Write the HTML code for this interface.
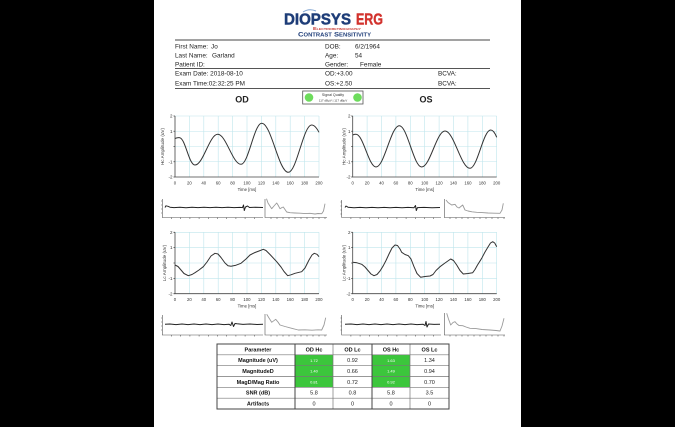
<!DOCTYPE html>
<html><head><meta charset="utf-8"><style>
html,body{margin:0;padding:0;background:#000;}
svg{display:block;}
text{font-family:"Liberation Sans",Arial,sans-serif;}
</style></head><body>
<svg width="675" height="427" viewBox="0 0 675 427" xmlns="http://www.w3.org/2000/svg">
<rect x="0" y="0" width="675" height="427" fill="#000"/>
<rect x="154" y="0" width="367" height="427" fill="#fff"/>

<!-- Logo -->
<text x="284" y="24.5" font-size="16" font-weight="bold" fill="#1e3d78" stroke="#1e3d78" stroke-width="0.5" textLength="67" lengthAdjust="spacingAndGlyphs">DIOPSYS</text>
<path d="M303 12 Q309 8 316 11" stroke="#7fa3d0" stroke-width="1" fill="none"/>
<text x="356" y="24.5" font-size="16" font-weight="bold" fill="#d2322d" stroke="#d2322d" stroke-width="0.4" textLength="27" lengthAdjust="spacingAndGlyphs">ERG</text>
<text x="313" y="30" font-size="4.5" font-weight="bold" fill="#c8352f" style="font-variant:small-caps" textLength="48" lengthAdjust="spacingAndGlyphs">Electroretinography</text>
<text x="298" y="36.5" font-size="6.5" font-weight="bold" fill="#1e3d78" style="font-variant:small-caps" textLength="73" lengthAdjust="spacingAndGlyphs">Contrast Sensitivity</text>

<!-- Header lines -->
<line x1="175" y1="40" x2="490" y2="40" stroke="#444" stroke-width="1.1"/>
<line x1="175" y1="68.5" x2="490" y2="68.5" stroke="#555" stroke-width="0.9"/>
<line x1="175" y1="88.5" x2="490" y2="88.5" stroke="#555" stroke-width="0.9"/>

<g font-size="6.4" fill="#222">
<text x="175" y="48.5">First Name:</text><text x="211" y="48.5">Jo</text>
<text x="175" y="57.5">Last Name:</text><text x="212" y="57.5">Garland</text>
<text x="175" y="66.5">Patient ID:</text>
<text x="175" y="75.5">Exam Date: 2018-08-10</text>
<text x="175" y="85.5">Exam Time:02:32:25 PM</text>
<text x="325" y="48.5">DOB:</text><text x="355" y="48.5">6/2/1964</text>
<text x="325" y="57.5">Age:</text><text x="355" y="57.5">54</text>
<text x="325" y="66.5">Gender:</text><text x="360" y="66.5">Female</text>
<text x="325" y="75.5">OD:+3.00</text>
<text x="325" y="85.5">OS:+2.50</text>
<text x="438" y="75.5">BCVA:</text>
<text x="438" y="85.5">BCVA:</text>
</g>

<!-- Signal quality -->
<rect x="302.7" y="91" width="60.3" height="13" fill="#fff" stroke="#555" stroke-width="0.8"/>
<circle cx="309" cy="97.5" r="4.3" fill="#6ddc5c"/>
<circle cx="357.5" cy="97.5" r="4.3" fill="#6ddc5c"/>
<text x="333" y="96" font-size="3.6" fill="#333" text-anchor="middle">Signal Quality</text>
<text x="333" y="101.5" font-size="3" fill="#333" text-anchor="middle">117 dBµV | 117 dBµV</text>

<text x="242" y="102.5" font-size="9" font-weight="bold" fill="#222" text-anchor="middle">OD</text>
<text x="426" y="102.5" font-size="9" font-weight="bold" fill="#222" text-anchor="middle">OS</text>

<!-- ===== Chart grids ===== -->
<g stroke="#bfe5ec" stroke-width="0.6">
 <path d="M189.4 116V177M203.8 116V177M218.2 116V177M232.6 116V177M247 116V177M261.4 116V177M275.8 116V177M290.2 116V177M304.6 116V177M319 116V177M175 116H319M175 131.25H319M175 146.5H319M175 161.75H319"/>
 <path d="M367.1 116V177M381.5 116V177M395.9 116V177M410.3 116V177M424.7 116V177M439.1 116V177M453.5 116V177M467.9 116V177M482.3 116V177M496.7 116V177M352.7 116H496.7M352.7 131.25H496.7M352.7 146.5H496.7M352.7 161.75H496.7"/>
 <path d="M189.4 232.3V293.7M203.8 232.3V293.7M218.2 232.3V293.7M232.6 232.3V293.7M247 232.3V293.7M261.4 232.3V293.7M275.8 232.3V293.7M290.2 232.3V293.7M304.6 232.3V293.7M319 232.3V293.7M175 232.3H319M175 247.65H319M175 263H319M175 278.35H319"/>
 <path d="M367.1 232.3V293.7M381.5 232.3V293.7M395.9 232.3V293.7M410.3 232.3V293.7M424.7 232.3V293.7M439.1 232.3V293.7M453.5 232.3V293.7M467.9 232.3V293.7M482.3 232.3V293.7M496.7 232.3V293.7M352.7 232.3H496.7M352.7 247.65H496.7M352.7 263H496.7M352.7 278.35H496.7"/>
</g>

<!-- axes -->
<g stroke="#444" stroke-width="0.8" fill="none">
 <path d="M175 116V177H319"/>
 <path d="M352.7 116V177H496.7"/>
 <path d="M175 232.3V293.7H319"/>
 <path d="M352.7 232.3V293.7H496.7"/>
 <path d="M173.5 116H175M173.5 131.25H175M173.5 146.5H175M173.5 161.75H175M173.5 177H175"/>
 <path d="M351.2 116H352.7M351.2 131.25H352.7M351.2 146.5H352.7M351.2 161.75H352.7M351.2 177H352.7"/>
 <path d="M173.5 232.3H175M173.5 247.65H175M173.5 263H175M173.5 278.35H175M173.5 293.7H175"/>
 <path d="M351.2 232.3H352.7M351.2 247.65H352.7M351.2 263H352.7M351.2 278.35H352.7M351.2 293.7H352.7"/>
</g>

<!-- tick labels -->
<g font-size="4.5" fill="#333" text-anchor="end">
 <text x="172.5" y="117.6">2</text><text x="172.5" y="132.8">1</text><text x="172.5" y="163.3">-1</text><text x="172.5" y="178.6">-2</text>
 <text x="350.5" y="117.6">2</text><text x="350.5" y="132.8">1</text><text x="350.5" y="163.3">-1</text><text x="350.5" y="178.6">-2</text>
 <text x="172.5" y="233.9">2</text><text x="172.5" y="249.2">1</text><text x="172.5" y="279.9">-1</text><text x="172.5" y="295.3">-2</text>
 <text x="350.5" y="233.9">2</text><text x="350.5" y="249.2">1</text><text x="350.5" y="279.9">-1</text><text x="350.5" y="295.3">-2</text>
</g>
<g font-size="4.3" fill="#333" text-anchor="middle">
 <text x="175" y="184.5">0</text><text x="189.4" y="184.5">20</text><text x="203.8" y="184.5">40</text><text x="218.2" y="184.5">60</text><text x="232.6" y="184.5">80</text><text x="247" y="184.5">100</text><text x="261.4" y="184.5">120</text><text x="275.8" y="184.5">140</text><text x="290.2" y="184.5">160</text><text x="304.6" y="184.5">180</text><text x="319" y="184.5">200</text>
 <text x="352.7" y="184.5">0</text><text x="367.1" y="184.5">20</text><text x="381.5" y="184.5">40</text><text x="395.9" y="184.5">60</text><text x="410.3" y="184.5">80</text><text x="424.7" y="184.5">100</text><text x="439.1" y="184.5">120</text><text x="453.5" y="184.5">140</text><text x="467.9" y="184.5">160</text><text x="482.3" y="184.5">180</text><text x="496.7" y="184.5">200</text>
 <text x="175" y="300.8">0</text><text x="189.4" y="300.8">20</text><text x="203.8" y="300.8">40</text><text x="218.2" y="300.8">60</text><text x="232.6" y="300.8">80</text><text x="247" y="300.8">100</text><text x="261.4" y="300.8">120</text><text x="275.8" y="300.8">140</text><text x="290.2" y="300.8">160</text><text x="304.6" y="300.8">180</text><text x="319" y="300.8">200</text>
 <text x="352.7" y="300.8">0</text><text x="367.1" y="300.8">20</text><text x="381.5" y="300.8">40</text><text x="395.9" y="300.8">60</text><text x="410.3" y="300.8">80</text><text x="424.7" y="300.8">100</text><text x="439.1" y="300.8">120</text><text x="453.5" y="300.8">140</text><text x="467.9" y="300.8">160</text><text x="482.3" y="300.8">180</text><text x="496.7" y="300.8">200</text>
 <text x="247" y="191">Time [ms]</text>
 <text x="424.7" y="191">Time [ms]</text>
 <text x="247" y="307.3">Time [ms]</text>
 <text x="424.7" y="307.3">Time [ms]</text>
</g>
<g font-size="4.6" fill="#333" text-anchor="middle">
 <text transform="translate(164,146.5) rotate(-90)">Hc Amplitude (uV)</text>
 <text transform="translate(345.5,146.5) rotate(-90)">Hc Amplitude (uV)</text>
 <text transform="translate(166,263) rotate(-90)">Lc Amplitude (uV)</text>
 <text transform="translate(345.5,263) rotate(-90)">Lc Amplitude (uV)</text>
</g>

<!-- ===== waveforms ===== -->
<g stroke="#333" stroke-width="1" fill="none" stroke-linejoin="round">
 <path d="M175,138.5 C177,137.6 178.5,137.5 180,137.8 C185.5,139.5 189,165 195,165 C203.2,165 209.5,134.3 217.7,134.3 C226.1,134.3 232.6,164.3 241,164.3 C248.5,164.3 254.2,123.3 261.7,123.3 C271.3,123.3 278.7,172.3 288.3,172.3 C296.7,172.3 303.3,125 311.7,125 C314.5,125 317,128.5 319,132.3"/>
 <path d="M352.7,135 C354,134.4 355,134.3 356,134.3 C363.2,134.3 368.8,167 376,167 C384.4,167 390.9,125.7 399.3,125.7 C407.4,125.7 413.6,167 421.7,167 C430.1,167 436.6,131 445,131 C454,131 461,168.3 470,168.3 C477.5,168.3 483.2,130 490.7,130 C493,130 495,133 496.7,137.3"/>
 <polyline points="175,265 178,266.5 181,270 184,273.5 188.3,275.7 192,274.5 195,272.7 199,270 203.3,266.7 207,262 211,256 215,253.3 218,254 221,257.5 225,263 228,265.8 231,266.3 236,265.2 241,263.3 246,259 250,255 255,252.5 259,251 263.3,249.3 266,250.5 270,254.5 276.7,261.7 281,267 284,271.5 287.7,275.7 291,274.8 295,273.3 301.7,271.7 305,268 309,260 312,255 314.3,253.3 317,254.3 319,256.7"/>
 <polyline points="352.7,262.3 357,262.8 361.7,264.3 365,267 368,270.5 371,274 374,275.7 377,274.5 380,271 383.3,265.7 386,260.5 389,254 392,248 395,245 397.5,245.5 400,249 401.7,252.3 405,254.5 408.3,255.7 411,259 414,266.7 417,273.5 420.7,277.3 425,276.5 430,276 433,274.5 436,270.5 440,266.7 445,263 450.7,259 453.5,260.5 456.7,265 460,270.5 463.3,274 468,273.5 472.7,272.7 475,269.5 477.5,265 481.7,258.3 485,252 488,247 490.5,243 492.7,241.7 494.7,243 496.7,246.7"/>
</g>

<!-- ===== small trace panels ===== -->
<g stroke="#555" stroke-width="0.6" fill="none">
 <path d="M162.3 199V217.5H263"/>
 <path d="M265 199V217.5H327"/>
 <path d="M341.7 200V217.5H441"/>
 <path d="M444.3 199V217.5H505"/>
 <path d="M162.3 315V335H263"/>
 <path d="M265 314V335H327"/>
 <path d="M341.7 315V335H441"/>
 <path d="M444.3 313V335H505"/>
 <path d="M171.5 217.5v1.5M180.7 217.5v1.5M189.9 217.5v1.5M199.1 217.5v1.5M208.3 217.5v1.5M217.5 217.5v1.5M226.7 217.5v1.5M235.9 217.5v1.5M245.1 217.5v1.5M254.3 217.5v1.5M271 217.5v1.5M277 217.5v1.5M283 217.5v1.5M289 217.5v1.5M295 217.5v1.5M301 217.5v1.5M307 217.5v1.5M313 217.5v1.5M319 217.5v1.5M325 217.5v1.5"/>
 <path d="M350.9 217.5v1.5M360.1 217.5v1.5M369.3 217.5v1.5M378.5 217.5v1.5M387.7 217.5v1.5M396.9 217.5v1.5M406.1 217.5v1.5M415.3 217.5v1.5M424.5 217.5v1.5M433.7 217.5v1.5M450 217.5v1.5M456 217.5v1.5M462 217.5v1.5M468 217.5v1.5M474 217.5v1.5M480 217.5v1.5M486 217.5v1.5M492 217.5v1.5M498 217.5v1.5M504 217.5v1.5"/>
 <path d="M171.5 335v1.5M180.7 335v1.5M189.9 335v1.5M199.1 335v1.5M208.3 335v1.5M217.5 335v1.5M226.7 335v1.5M235.9 335v1.5M245.1 335v1.5M254.3 335v1.5M271 335v1.5M277 335v1.5M283 335v1.5M289 335v1.5M295 335v1.5M301 335v1.5M307 335v1.5M313 335v1.5M319 335v1.5M325 335v1.5"/>
 <path d="M350.9 335v1.5M360.1 335v1.5M369.3 335v1.5M378.5 335v1.5M387.7 335v1.5M396.9 335v1.5M406.1 335v1.5M415.3 335v1.5M424.5 335v1.5M433.7 335v1.5M450 335v1.5M456 335v1.5M462 335v1.5M468 335v1.5M474 335v1.5M480 335v1.5M486 335v1.5M492 335v1.5M498 335v1.5M504 335v1.5"/>
 <path d="M161 201h1.3M161 205h1.3M161 209h1.3M161 213h1.3M340.4 202h1.3M340.4 206h1.3M340.4 210h1.3M340.4 214h1.3M161 318h1.3M161 322h1.3M161 326h1.3M161 330h1.3M340.4 318h1.3M340.4 322h1.3M340.4 326h1.3M340.4 330h1.3"/>
</g>
<g stroke="#222" stroke-width="1" fill="none" stroke-linejoin="round">
 <polyline points="165,207.5 166,205.8 168,206.3 170,207.2 174,207.6 180,207.3 186,207.7 192,207.3 198,207.6 204,207.3 210,207.6 216,207.3 222,207.6 228,207.3 234,207.6 240,207.4 242.5,207.6 243.5,205 244.3,210.5 245.5,207 247.5,206 249.5,207.5 255,207.3 263,207.5"/>
 <polyline points="345,207.5 346,206 348,207.2 354,207.8 360,207.4 366,207.8 372,207.4 378,207.8 384,207.4 390,207.8 396,207.4 402,207.8 408,207.4 414,207.7 415.5,205.5 416.3,210.5 417.5,207.6 424,207.4 432,207.8 440,207.5"/>
 <polyline points="165,324.3 170,324 176,324.6 182,324 188,324.6 194,324 200,324.6 206,324 212,324.6 218,324 224,324.6 229,324.2 230.8,325.5 232,322 233.5,326.5 235,323.5 237,323.8 243,324.4 250,324 257,324.5 263,324.3"/>
 <polyline points="345,324.3 351,324 357,324.6 363,324 369,324.6 375,324 381,324.6 387,324 393,324.6 399,324 405,324.6 411,324 417,324.6 423,324.2 425,325.5 426,321.5 427,327 428.5,324 434,324.4 440,324.2"/>
</g>
<g stroke="#9a9a9a" stroke-width="0.9" fill="none" stroke-linejoin="round">
 <polyline points="266.5,198.7 268,203 271.7,208.7 274,206 276.7,203 278,205 280,208.7 282,207.5 283.3,207 285,209.5 286.7,212 290,212.7 295,213 300,213.2 305,213.6 310,213.3 315,214 318,213.5 321.7,213.7 323.5,211 325,203.7"/>
 <polyline points="446,200 448,202.5 451.7,205 455,204.3 457,207 459,208 462.7,205 465,210 468,211 472,211.8 476.7,212.3 482,212.6 488,213 494,213.2 500,213.3 502,210 503.3,203.3"/>
 <polyline points="266.7,314.3 269,318 271.7,322.3 275.7,319.3 278,322 280,325 285,326.5 291.7,328.3 298.3,330 305,329.8 312,330.2 318,329.8 321.7,330 324,325 325.7,317.7"/>
 <polyline points="446.7,313.3 448.5,319 450.7,325 453,322.5 455,321.7 457,324 459,325.5 462.7,325.7 466,327 470,328.3 476,328.6 482,329.5 490,330 496,330.5 500,331 502,326 504,318.3"/>
</g>

<!-- ===== Table ===== -->
<rect x="295" y="354.8" width="38" height="32.5" fill="#3cc63c"/>
<rect x="372" y="354.8" width="38" height="32.5" fill="#3cc63c"/>
<g stroke="#777" stroke-width="0.7" fill="none">
 <path d="M217 354.8H449M217 365.7H449M217 376.5H449M217 387.3H449M217 398.2H449"/>
 <path d="M333 344V409M410 344V409"/>
</g>
<g stroke="#444" stroke-width="1" fill="none">
 <rect x="217" y="344" width="232" height="65"/>
 <path d="M295 344V409M372 344V409"/>
</g>
<g font-size="5.5" fill="#111" text-anchor="middle" font-weight="bold">
 <text x="258" y="351.4">Parameter</text>
 <text x="314" y="351.4">OD Hc</text>
 <text x="352.5" y="351.4">OD Lc</text>
 <text x="391" y="351.4">OS Hc</text>
 <text x="429.5" y="351.4">OS Lc</text>
 <text x="258" y="362.2">Magnitude (uV)</text>
 <text x="258" y="373">MagnitudeD</text>
 <text x="258" y="383.9">MagD/Mag Ratio</text>
 <text x="258" y="394.7">SNR (dB)</text>
 <text x="258" y="405.6">Artifacts</text>
</g>
<g font-size="4" fill="#fff" text-anchor="middle">
 <text x="314" y="361.8">1.72</text><text x="391" y="361.8">1.63</text>
 <text x="314" y="372.6">1.40</text><text x="391" y="372.6">1.49</text>
 <text x="314" y="383.4">0.81</text><text x="391" y="383.4">0.92</text>
</g>
<g font-size="5.5" fill="#222" text-anchor="middle">
 <text x="352.5" y="362.2">0.92</text><text x="429.5" y="362.2">1.34</text>
 <text x="352.5" y="373">0.66</text><text x="429.5" y="373">0.94</text>
 <text x="352.5" y="383.9">0.72</text><text x="429.5" y="383.9">0.70</text>
 <text x="314" y="394.7">5.8</text><text x="352.5" y="394.7">0.8</text><text x="391" y="394.7">5.8</text><text x="429.5" y="394.7">3.5</text>
 <text x="314" y="405.6">0</text><text x="352.5" y="405.6">0</text><text x="391" y="405.6">0</text><text x="429.5" y="405.6">0</text>
</g>
</svg>
</body></html>
